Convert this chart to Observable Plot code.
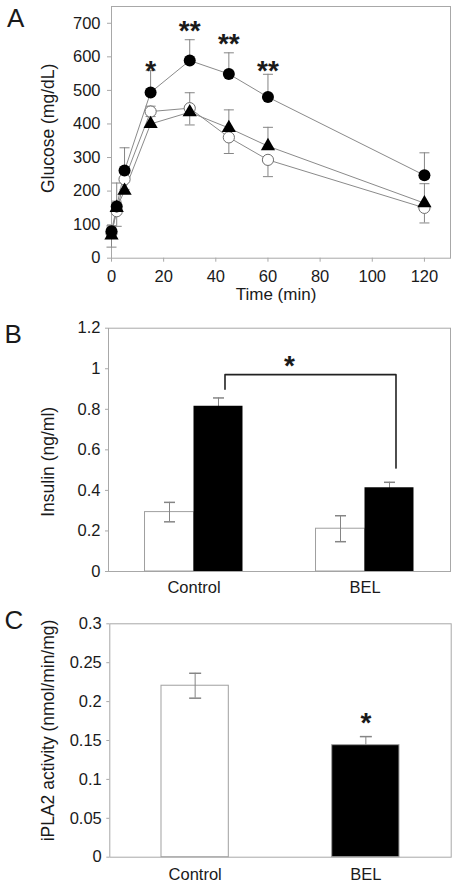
<!DOCTYPE html>
<html><head><meta charset="utf-8">
<script src="https://cdn.jsdelivr.net/npm/d3@7"></script>
<script src="https://cdn.jsdelivr.net/npm/@observablehq/plot@0.6"></script>
<style>
html,body{margin:0;padding:0;background:#fff;}
#chart svg{display:block;}
</style></head><body><div id="chart"></div>
<script>
// ---------- Panel A: glucose tolerance ----------
const glucoseTimes = [0, 2, 5, 15, 30, 45, 60, 120];
const glucoseFilled = [80, 154, 261, 494, 589, 549, 480, 247];
const glucoseFilledErr = [17, 70, 68, 65, 62, 63, 68, 67];
const glucoseOpen = [75, 140, 235, 437, 447, 360, 293, 150];
const glucoseOpenErr = [42, 45, 30, 15, 50, 48, 50, 45];
const glucoseTri = [68, 150, 201, 400, 435, 388, 334, 164];
const glucoseTriErr = [25, 20, 30, 53, 58, 54, 56, 58];
const glucoseStarTimes = [15, 30, 45, 60];
const glucoseStarY = [579, 698, 658, 579];
const glucoseStarLabels = ["*", "**", "**", "**"];
const glucoseYTicks = [0, 100, 200, 300, 400, 500, 600, 700];
const timeTicks = [0, 20, 40, 60, 80, 100, 120];
const glucoseLabel = "Glucose (mg/dL)";
const timeLabel = "Time (min)";

// ---------- Panel B: insulin ----------
const insulinGroups = ["Control", "BEL"];
const insulinBasal = [0.293, 0.211];
const insulinBasalErr = [0.048, 0.064];
const insulinStim = [0.815, 0.413];
const insulinStimErr = [0.041, 0.027];
const insulinTicks = [0, 0.2, 0.4, 0.6, 0.8, 1, 1.2];
const insulinBracketGroups = ["Control", "Control", "BEL", "BEL"];
const insulinBracketY = [0.899, 0.971, 0.971, 0.51];
const insulinStarY = 1.047;
const insulinLabel = "Insulin (ng/ml)";

// ---------- Panel C: iPLA2 activity ----------
const activityGroups = ["Control", "BEL"];
const activityValues = [0.2204, 0.144];
const activityErr = [0.016, 0.011];
const activityStarY = 0.182;
const activityTicks = [0, 0.05, 0.1, 0.15, 0.2, 0.25, 0.3];
const activityLabel = "iPLA2 activity (nmol/min/mg)";

// ---------- shared styling ----------
const font = "'Liberation Sans', Arial, Helvetica, sans-serif";
const textColor = "#1a1a1a";
const frameColor = "#a8a8a8";
const lineColor = "#8a8a8a";
const errColor = "#858585";
const tickFont = 16.5;
const titleFont = 17.5;
const letterFont = 26;
const starFont = 28;
const W = 457;
const capSymbol = {draw(context, size) {const w = Math.sqrt(size / Math.PI); context.moveTo(-w, 0); context.lineTo(w, 0);}};
const baseStyle = {fontFamily: font, fontSize: tickFont + "px", color: textColor, background: "transparent", overflow: "visible"};
const fmt = d => String(d);

const chart = document.getElementById("chart");

// ===== Panel A =====
const seriesA = [
  {series: "filled", mean: glucoseFilled, err: glucoseFilledErr, dir: 1},
  {series: "open", mean: glucoseOpen, err: glucoseOpenErr, dir: -1},
  {series: "tri", mean: glucoseTri, err: glucoseTriErr, dir: 1}
];
const rowsA = seriesA.flatMap(s => glucoseTimes.map((t, i) => ({
  series: s.series, t, y: s.mean[i], yErr: s.mean[i] + s.dir * s.err[i]
})));
const starsA = glucoseStarTimes.map((t, i) => ({t, y: glucoseStarY[i], label: glucoseStarLabels[i]}));

const plotA = Plot.plot({
  width: W, height: 300,
  marginTop: 6, marginBottom: 42.3, marginLeft: 111, marginRight: 7,
  style: baseStyle,
  x: {domain: [0, 130]},
  y: {domain: [0, 750]},
  marks: [
    Plot.frame({stroke: frameColor}),
    Plot.axisY({ticks: glucoseYTicks, tickSize: 4, tickPadding: 7, label: null, stroke: frameColor, fill: textColor, fontSize: tickFont}),
    Plot.axisX({ticks: timeTicks, tickSize: 4, tickPadding: 8, label: null, stroke: frameColor, fill: textColor, fontSize: tickFont}),
    Plot.line(rowsA, {x: "t", y: "y", z: "series", stroke: lineColor, strokeWidth: 1}),
    Plot.ruleX(rowsA, {x: "t", y1: "y", y2: "yErr", stroke: errColor, strokeWidth: 1}),
    Plot.dot(rowsA, {x: "t", y: "yErr", symbol: capSymbol, r: 5, fill: "none", stroke: errColor, strokeWidth: 1}),
    Plot.dot(rowsA.filter(d => d.series === "open"), {x: "t", y: "y", r: 5.6, fill: "white", stroke: "#6e6e6e", strokeWidth: 1}),
    Plot.dot(rowsA.filter(d => d.series === "tri"), {x: "t", y: "y", symbol: "triangle", r: 5.3, fill: "black", stroke: "none"}),
    Plot.dot(rowsA.filter(d => d.series === "filled"), {x: "t", y: "y", r: 6, fill: "black", stroke: "none"}),
    Plot.text(starsA, {x: "t", y: "y", text: "label", fontSize: starFont, fontWeight: "bold", dy: 7, fill: textColor}),
    Plot.text([glucoseLabel], {text: d => d, frameAnchor: "left", textAnchor: "middle", lineAnchor: "middle", rotate: -90, dx: -63.3, dy: -4, fontSize: titleFont, fill: textColor}),
    Plot.text([timeLabel], {text: d => d, frameAnchor: "bottom", textAnchor: "middle", lineAnchor: "middle", dx: -5, dy: 36.3, fontSize: 17, fill: textColor}),
    Plot.text(["A"], {text: d => d, frameAnchor: "top-left", textAnchor: "start", lineAnchor: "middle", dx: -104.5, dy: 12.4, fontSize: letterFont, fill: textColor})
  ]
});
chart.appendChild(plotA);

// ===== Panel B =====
const bPadIn = 0.427, bPadOut = 0.2135;
const bInner = W - 108 - 7;
const bStep = bInner / (insulinGroups.length - bPadIn + 2 * bPadOut);
const bBand = bStep * (1 - bPadIn);
const rowsB = insulinGroups.map((g, i) => ({
  group: g, basal: insulinBasal[i], basalErr: insulinBasalErr[i], stim: insulinStim[i], stimErr: insulinStimErr[i]
}));
const bracketB = insulinBracketGroups.map((g, i) => ({group: g, y: insulinBracketY[i]}));

const plotB = Plot.plot({
  width: W, height: 300,
  marginTop: 27.7, marginBottom: 29, marginLeft: 108, marginRight: 7,
  style: baseStyle,
  x: {type: "band", domain: insulinGroups, paddingInner: bPadIn, paddingOuter: bPadOut, round: false},
  y: {domain: [0, 1.2]},
  marks: [
    Plot.frame({stroke: frameColor}),
    Plot.axisY({ticks: insulinTicks, tickFormat: fmt, tickSize: 3, tickPadding: 5, label: null, stroke: frameColor, fill: textColor, fontSize: tickFont}),
    Plot.axisX({tickSize: 0, tickPadding: 10, label: null, fill: textColor, fontSize: tickFont}),
    Plot.barY(rowsB, {x: "group", y: "basal", fill: "white", stroke: "#a0a0a0", strokeWidth: 1, insetRight: bBand / 2}),
    Plot.ruleX(rowsB, {x: "group", y1: d => d.basal - d.basalErr, y2: d => d.basal + d.basalErr, dx: -bBand / 4, stroke: errColor}),
    Plot.dot(rowsB, {x: "group", y: d => d.basal - d.basalErr, dx: -bBand / 4, symbol: capSymbol, r: 5.5, fill: "none", stroke: errColor}),
    Plot.dot(rowsB, {x: "group", y: d => d.basal + d.basalErr, dx: -bBand / 4, symbol: capSymbol, r: 5.5, fill: "none", stroke: errColor}),
    Plot.ruleX(rowsB, {x: "group", y1: d => d.stim - d.stimErr, y2: d => d.stim + d.stimErr, dx: bBand / 4, stroke: errColor}),
    Plot.dot(rowsB, {x: "group", y: d => d.stim + d.stimErr, dx: bBand / 4, symbol: capSymbol, r: 5.5, fill: "none", stroke: errColor}),
    Plot.barY(rowsB, {x: "group", y: "stim", fill: "black", insetLeft: bBand / 2}),
    Plot.line(bracketB, {x: "group", y: "y", dx: bBand / 4 + 6.5, stroke: "#222", strokeWidth: 1.6}),
    Plot.text([insulinStarY], {y: d => d, text: () => "*", dx: 10, dy: 7, fontSize: starFont, fontWeight: "bold", fill: textColor}),
    Plot.text([insulinLabel], {text: d => d, frameAnchor: "left", textAnchor: "middle", lineAnchor: "middle", rotate: -90, dx: -60, dy: 12, fontSize: titleFont, fill: textColor}),
    Plot.text(["B"], {text: d => d, frameAnchor: "top-left", textAnchor: "start", lineAnchor: "middle", dx: -104, dy: 6, fontSize: letterFont, fill: textColor})
  ]
});
chart.appendChild(plotB);

// ===== Panel C =====
const cPadIn = 0.6057, cPadOut = 0.30285;
const rowsC = activityGroups.map((g, i) => ({group: g, value: activityValues[i], err: activityErr[i]}));
const plotC = Plot.plot({
  width: W, height: 287,
  marginTop: 23.3, marginBottom: 30.3, marginLeft: 109.3, marginRight: 6.3,
  style: baseStyle,
  x: {type: "band", domain: activityGroups, paddingInner: cPadIn, paddingOuter: cPadOut, round: false},
  y: {domain: [0, 0.3]},
  marks: [
    Plot.frame({stroke: frameColor}),
    Plot.axisY({ticks: activityTicks, tickFormat: fmt, tickSize: 3, tickPadding: 5, label: null, stroke: frameColor, fill: textColor, fontSize: tickFont}),
    Plot.axisX({tickSize: 0, tickPadding: 10.8, label: null, fill: textColor, fontSize: tickFont}),
    Plot.barY(rowsC, {x: "group", y: "value", fill: d => d.group === "BEL" ? "black" : "white", stroke: "#a0a0a0", strokeWidth: 1}),
    Plot.ruleX(rowsC, {x: "group", y1: d => d.group === "BEL" ? d.value : d.value - d.err, y2: d => d.value + d.err, stroke: errColor}),
    Plot.dot(rowsC, {x: "group", y: d => d.value + d.err, symbol: capSymbol, r: 6, fill: "none", stroke: errColor}),
    Plot.dot(rowsC.filter(d => d.group !== "BEL"), {x: "group", y: d => d.value - d.err, symbol: capSymbol, r: 6, fill: "none", stroke: errColor}),
    Plot.text([{group: "BEL", y: activityStarY}], {x: "group", y: "y", text: () => "*", dy: 7, fontSize: starFont, fontWeight: "bold", fill: textColor}),
    Plot.text([activityLabel], {text: d => d, frameAnchor: "left", textAnchor: "middle", lineAnchor: "middle", rotate: -90, dx: -61, dy: -10, fontSize: titleFont, fill: textColor}),
    Plot.text(["C"], {text: d => d, frameAnchor: "top-left", textAnchor: "start", lineAnchor: "middle", dx: -105.3, dy: -3.3, fontSize: letterFont, fill: textColor})
  ]
});
chart.appendChild(plotC);
</script>
</body></html>
